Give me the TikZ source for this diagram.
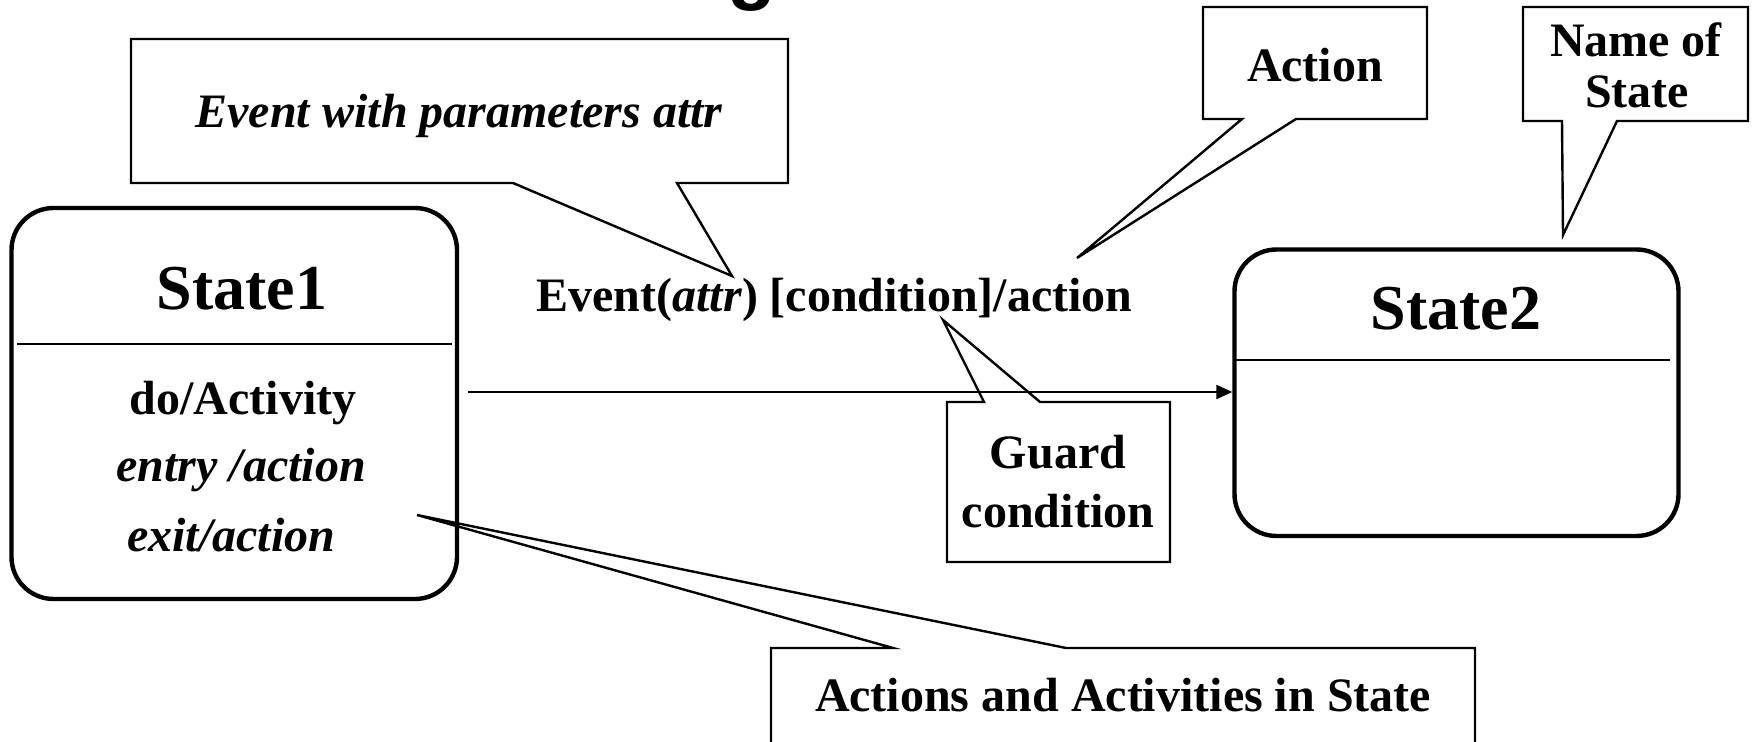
\documentclass[tikz,border=0pt]{standalone}
\usepackage{fontspec}
\setmainfont{Liberation Serif}
\newfontfamily\titlefont{Liberation Sans}
\usetikzlibrary{arrows.meta}
\begin{document}
\begin{tikzpicture}[x=0.5pt,y=-0.5pt,
  statebox/.style={draw, line width=2.2pt, rounded corners=21pt, inner sep=0pt},
  divider/.style={line width=1.4pt},
  callout/.style={draw, line width=1.2pt},
  lbl/.style={font=\fontsize{24}{28}\selectfont\bfseries, inner sep=0pt, anchor=base},
  big/.style={font=\fontsize{32}{36}\selectfont\bfseries, inner sep=0pt, anchor=base},
  trans/.style={line width=1.1pt, -{Triangle[length=8pt,width=7pt]}}
]
\useasboundingbox (0,0) rectangle (1752,742);

% fragment of the cut-off title
\node[font=\fontsize{40}{40}\selectfont\titlefont\bfseries, anchor=base west, inner sep=0pt] (title) at (727,-5) {g};

% states
\node[statebox, minimum width=222.75pt, minimum height=195.5pt] (s1) at (234.25,403.5) {};
\node[statebox, minimum width=222pt, minimum height=143.25pt] (s2) at (1456.5,392.75) {};
\draw[divider] (17,344) -- (452,344);
\draw[divider] (1236,360) -- (1670,360);

\node[big] (s1name) at (242,310) {State1};
\node[lbl] (s1do) at (243,415) {do/Activity};
\node[lbl] (s1entry) at (241,482) {\itshape entry /action};
\node[lbl] (s1exit) at (231,552) {\itshape exit/action};
\node[big] (s2name) at (1456,330) {State2};

% transition
\node[lbl] (tlabel) at (834.5,312) {Event(\textit{attr}) [condition]/action};

% callouts
\coordinate (evtip) at (732,276);
\draw[callout] (131,39) -- (788,39) -- (788,183) -- (677,183) -- (evtip) -- (513,183) -- (131,183) -- cycle;
\node[lbl] (evtxt) at (459,128) {\itshape Event with parameters attr};

\coordinate (actip) at (1077,258);
\draw[callout] (1203,7) -- (1427,7) -- (1427,119) -- (1296,119) -- (actip) -- (1242,119) -- (1203,119) -- cycle;
\node[lbl] (actxt) at (1315,82) {Action};

\coordinate (nmtip) at (1563,235);
\draw[callout] (1523,7) -- (1748,7) -- (1748,121) -- (1617,121) -- (nmtip) -- (1562,121) -- (1523,121) -- cycle;
\node[lbl] (nmtxt1) at (1636,57) {Name of};
\node[lbl] (nmtxt2) at (1637,108) {State};

\coordinate (gdtip) at (943,320);
\draw[callout] (947,402) -- (984,402) -- (gdtip) -- (1040,402) -- (1170,402) -- (1170,562) -- (947,562) -- cycle;
\node[lbl] (gdtxt1) at (1058,469) {Guard};
\node[lbl] (gdtxt2) at (1058,528) {condition};

\coordinate (aatip) at (417,515);
\draw[callout] (771,648) -- (893,648) -- (aatip) -- (1066,648) -- (1475,648) -- (1475,760) -- (771,760) -- cycle;
\node[lbl] (aatxt) at (1123,712) {Actions and Activities in State};

% transition arrow
\coordinate (tstart) at (468,392);
\draw[trans] (tstart) -- (s2.west |- tstart);
\end{tikzpicture}
\end{document}
